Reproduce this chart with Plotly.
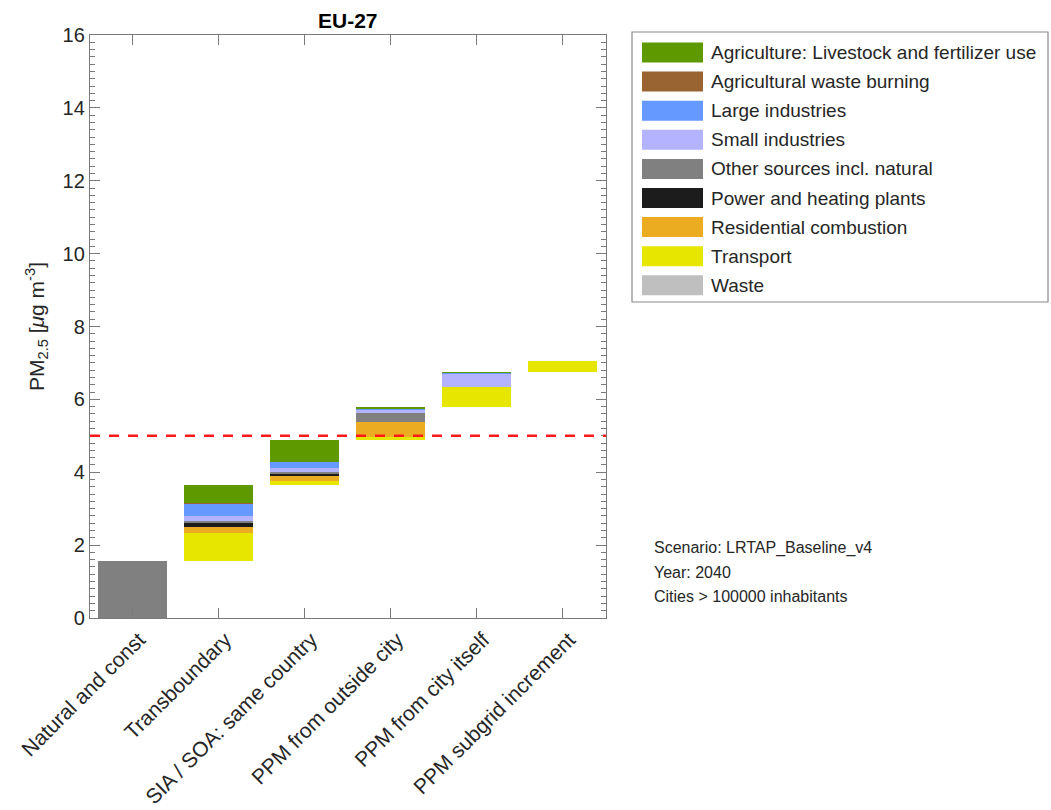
import plotly.graph_objects as go

# PM2.5 source apportionment, EU-27 cities
categories = ["Natural and const", "Transboundary", "SIA / SOA: same country",
              "PPM from outside city", "PPM from city itself", "PPM subgrid increment"]

sources = ["Agriculture: Livestock and fertilizer use", "Agricultural waste burning",
           "Large industries", "Small industries", "Other sources incl. natural",
           "Power and heating plants", "Residential combustion", "Transport", "Waste"]

colors = ["#5f9900", "#9a6432", "#6699ff", "#b3b3ff", "#808080",
          "#1c1c1c", "#ebac22", "#e6e600", "#bfbfbf"]

# contributions per category (µg/m3)
transport   = [0.00, 0.76, 0.12, 0.09, 0.55, 0.31]
residential = [0.00, 0.18, 0.13, 0.41, 0.00, 0.00]
power       = [0.00, 0.11, 0.08, 0.00, 0.00, 0.00]
other       = [1.57, 0.05, 0.04, 0.25, 0.00, 0.00]
small_ind   = [0.00, 0.13, 0.10, 0.10, 0.38, 0.00]
large_ind   = [0.00, 0.35, 0.17, 0.03, 0.02, 0.00]
agri_waste  = [0.00, 0.01, 0.00, 0.00, 0.00, 0.00]
agriculture = [0.00, 0.48, 0.60, 0.03, 0.01, 0.00]
waste       = [0.00, 0.00, 0.00, 0.00, 0.00, 0.00]

who_guideline = 5.0

scenario_lines = ["Scenario: LRTAP_Baseline_v4", "Year: 2040", "Cities > 100000 inhabitants"]

# stacking order from bottom to top
stack = [
    (transport, "Transport"),
    (residential, "Residential combustion"),
    (power, "Power and heating plants"),
    (other, "Other sources incl. natural"),
    (small_ind, "Small industries"),
    (large_ind, "Large industries"),
    (agri_waste, "Agricultural waste burning"),
    (agriculture, "Agriculture: Livestock and fertilizer use"),
    (waste, "Waste"),
]
color_of = dict(zip(sources, colors))

n = len(categories)
totals = [sum(vals[i] for vals, _ in stack) for i in range(n)]
offsets = [sum(totals[:i]) for i in range(n)]

fig = go.Figure()
running = list(offsets)
for vals, name in stack:
    fig.add_trace(go.Bar(
        x=list(range(n)), y=vals, base=list(running), width=0.8,
        marker=dict(color=color_of[name], line=dict(width=0)),
        name=name, showlegend=False, hoverinfo="skip",
    ))
    running = [r + v for r, v in zip(running, vals)]

font_family = "Liberation Sans, Arial, sans-serif"
text_col = "#262626"
axis_col = "#7a7a7a"

fig.add_shape(type="line", xref="paper", yref="y", x0=0, x1=1,
              y0=who_guideline, y1=who_guideline,
              line=dict(color="#ff1a1a", width=2.5, dash="10px,9px"))

# legend box drawn in paper space
px_w, px_h = 516.0, 583.0
def px_x(p):
    return (p - 90) / px_w
def px_y(p):
    return (618 - p) / px_h

shapes = [dict(type="rect", xref="paper", yref="paper",
               x0=px_x(632), x1=px_x(1048), y0=px_y(302), y1=px_y(32),
               line=dict(color="#8a8a8a", width=1.2), fillcolor="white")]
annotations = []
for k, name in enumerate(sources):
    yc = 52.5 + k * 29.1
    shapes.append(dict(type="rect", xref="paper", yref="paper",
                       x0=px_x(642), x1=px_x(703), y0=px_y(yc + 10), y1=px_y(yc - 10),
                       line=dict(width=0), fillcolor=color_of[name]))
    annotations.append(dict(xref="paper", yref="paper", x=px_x(709), y=px_y(yc),
                            xanchor="left", yanchor="middle", showarrow=False,
                            text=name, font=dict(size=19, color=text_col, family=font_family)))

for k, line in enumerate(scenario_lines):
    annotations.append(dict(xref="paper", yref="paper", x=px_x(652), y=px_y(548 + k * 24),
                            xanchor="left", yanchor="middle", showarrow=False,
                            text=line, font=dict(size=16, color=text_col, family=font_family)))

annotations.append(dict(xref="paper", yref="paper", x=0.5, y=1.0, yanchor="bottom",
                        yshift=1, showarrow=False, text="<b>EU-27</b>",
                        font=dict(size=21, color="#000000", family=font_family)))

fig.update_layout(
    width=1051, height=810,
    margin=dict(l=90, r=445, t=35, b=192),
    paper_bgcolor="white", plot_bgcolor="white",
    barmode="overlay", bargap=0,
    font=dict(family=font_family, color=text_col, size=20),
    shapes=fig.layout.shapes + tuple(shapes),
    annotations=annotations,
)

fig.update_xaxes(
    range=[-0.49, 5.51], tickmode="array", tickvals=list(range(n)), ticktext=categories,
    tickangle=-45, ticks="inside", ticklen=10, tickcolor=axis_col,
    showline=True, linecolor=axis_col, linewidth=1.3, mirror="ticks",
    showgrid=False, zeroline=False, tickfont=dict(size=21, color=text_col),
    ticklabelshift=7, automargin=False,
)
fig.update_yaxes(
    range=[0, 16], tickmode="linear", dtick=2, tick0=0,
    ticks="inside", ticklen=10, tickcolor=axis_col,
    minor=dict(dtick=0.2, ticks="inside", ticklen=5, tickcolor=axis_col, showgrid=False),
    showline=True, linecolor=axis_col, linewidth=1.3, mirror="ticks",
    showgrid=False, zeroline=False, tickfont=dict(size=20, color=text_col),
    title=dict(text="PM<sub>2.5</sub> [<i>μ</i>g m<sup>-3</sup>]",
               font=dict(size=21, color=text_col), standoff=12),
    automargin=False,
)

fig.write_html("out.html")
